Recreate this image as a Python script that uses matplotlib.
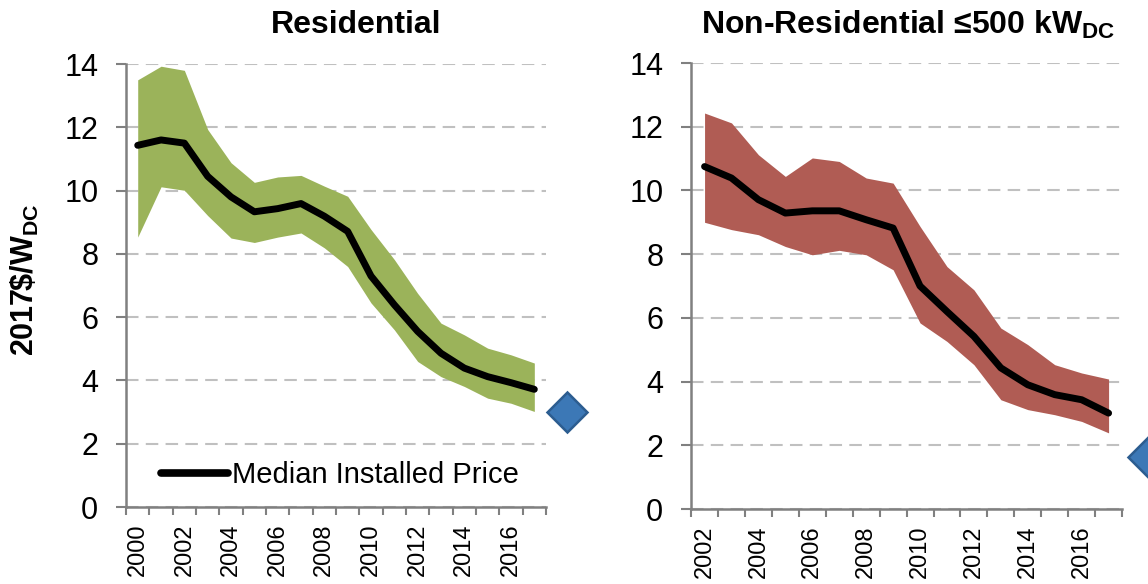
"""Installed price trends: residential vs non-residential, median with band."""

import matplotlib
matplotlib.use("Agg")
import matplotlib.pyplot as plt

plt.rcParams["font.family"] = ["Liberation Sans", "DejaVu Sans"]
plt.rcParams["mathtext.fontset"] = "custom"
plt.rcParams["mathtext.rm"] = "Liberation Sans"
plt.rcParams["mathtext.bf"] = "Liberation Sans:bold"

# Residential (2000-2017)
res_years = [2000, 2001, 2002, 2003, 2004, 2005, 2006, 2007, 2008,
             2009, 2010, 2011, 2012, 2013, 2014, 2015, 2016, 2017]
res_median = [11.43, 11.6, 11.5, 10.45, 9.8, 9.33, 9.43, 9.59, 9.19,
              8.71, 7.3, 6.39, 5.55, 4.86, 4.39, 4.12, 3.93, 3.72]
res_high = [13.5, 13.93, 13.8, 11.93, 10.88, 10.26, 10.43, 10.48, 10.14,
            9.82, 8.77, 7.82, 6.75, 5.81, 5.44, 5.02, 4.81, 4.55]
res_low = [8.53, 10.12, 10.01, 9.21, 8.5, 8.36, 8.53, 8.66, 8.19,
           7.6, 6.45, 5.6, 4.6, 4.12, 3.81, 3.44, 3.28, 3.02]
res_benchmark = 3.0

# Non-residential <=500 kW (2002-2017)
nonres_years = [2002, 2003, 2004, 2005, 2006, 2007, 2008, 2009,
                2010, 2011, 2012, 2013, 2014, 2015, 2016, 2017]
nonres_median = [10.75, 10.39, 9.71, 9.29, 9.36, 9.36, 9.08, 8.82,
                 7.0, 6.2, 5.42, 4.43, 3.9, 3.59, 3.43, 3.01]
nonres_high = [12.43, 12.12, 11.12, 10.44, 11.02, 10.91, 10.39, 10.23,
               8.87, 7.61, 6.88, 5.68, 5.16, 4.53, 4.27, 4.08]
nonres_low = [9.0, 8.77, 8.61, 8.24, 7.98, 8.12, 7.98, 7.51,
              5.84, 5.26, 4.53, 3.43, 3.12, 2.96, 2.75, 2.39]
nonres_benchmark = 1.63

GREEN = "#9bb35a"
RED = "#b05c54"
BLUE = "#3c78b6"
BLUE_EDGE = "#2c5d90"
AXIS_GRAY = "#808080"
GRID_GRAY = "#c0c0c0"


def draw_panel(ax, years, median, low, high, fill, bench, bench_offset):
    xs = list(range(len(years)))
    ax.fill_between(xs, low, high, color=fill, lw=0, zorder=2)
    ax.plot(xs, median, color="black", lw=5, solid_capstyle="round",
            solid_joinstyle="round", zorder=3, label="Median Installed Price")
    ax.plot([len(years) - 1 + bench_offset], [bench], marker="D", ms=20,
            color=BLUE, mec=BLUE_EDGE, mew=1.8, ls="none", clip_on=False,
            zorder=4)

    ax.set_xlim(-0.5, len(years) - 0.5)
    ax.set_ylim(0, 14)
    ax.set_yticks(range(0, 15, 2))
    ax.yaxis.grid(True, color=GRID_GRAY, lw=1.5, ls=(0, (6, 3.5)))
    ax.set_axisbelow(True)

    ax.set_xticks([x - 0.5 for x in range(len(years) + 1)], minor=True)
    major = [i for i, y in enumerate(years) if y % 2 == 0]
    ax.set_xticks(major)
    ax.set_xticklabels([str(years[i]) for i in major], rotation=90,
                       fontsize=17, va="top")
    ax.tick_params(axis="x", which="major", length=0, pad=12)
    ax.tick_params(axis="x", which="minor", length=5.5, width=1.5,
                   color=AXIS_GRAY, direction="out")
    ax.tick_params(axis="y", length=7, width=1.5, color=AXIS_GRAY,
                   labelsize=22, pad=13)

    for side in ("top", "right"):
        ax.spines[side].set_visible(False)
    for side in ("left", "bottom"):
        ax.spines[side].set_color(AXIS_GRAY)
        ax.spines[side].set_linewidth(1.8)
        ax.spines[side].set_zorder(5)


fig = plt.figure(figsize=(11.48, 5.84), dpi=100)
ax_res = fig.add_axes([0.1098, 0.1318, 0.3658, 0.7586])
ax_non = fig.add_axes([0.602, 0.1284, 0.3754, 0.7637])

draw_panel(ax_res, res_years, res_median, res_low, res_high, GREEN,
           res_benchmark, 1.4)
draw_panel(ax_non, nonres_years, nonres_median, nonres_low, nonres_high, RED,
           nonres_benchmark, 1.45)

leg = ax_res.legend(loc="center left", bbox_to_anchor=(0.083, 0.072),
                    frameon=False, fontsize=21, borderpad=0,
                    borderaxespad=0, handlelength=2.3, handletextpad=0.15)
for line in leg.get_lines():
    line.set_linewidth(5.5)
    line.set_solid_capstyle("round")

fig.text(0.022, 0.52, r"2017\$/W$_{\mathbf{DC}}$", rotation=90,
         fontsize=22, fontweight="bold", ha="center", va="center")
fig.text(0.310, 0.957, "Residential", fontsize=23, fontweight="bold",
         ha="center", va="center")
fig.text(0.791, 0.957, r"Non-Residential ≤500 kW$_{\mathbf{DC}}$",
         fontsize=23, fontweight="bold", ha="center", va="center")

fig.savefig("out.png", dpi=100)
